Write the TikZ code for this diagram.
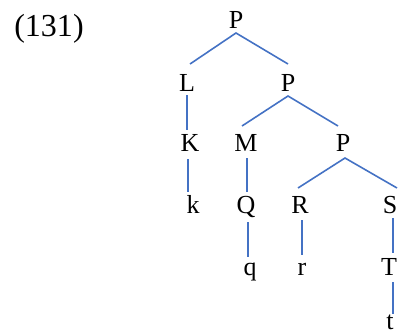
\documentclass[tikz,border=0pt]{standalone}
\usepackage{fontspec}
\setmainfont{Liberation Serif}
\definecolor{branch}{HTML}{4472C4}
\begin{document}
\begin{tikzpicture}[x=1pt,y=-1pt,
  lab/.style={anchor=base,inner sep=0pt,font=\fontsize{26}{30}\selectfont},
  numlab/.style={anchor=base,inner sep=0pt,font=\fontsize{32}{38}\selectfont},
  br/.style={draw=branch,line width=1.6pt}]
\useasboundingbox (0,0) rectangle (398,335);
\node[numlab] (num) at (49,36) {(131)};
\node[lab] (p1) at (236,28) {P};
\node[lab] (l)  at (187,91) {L};
\node[lab] (p2) at (288,91) {P};
\node[lab] (k)  at (190,151) {K};
\node[lab] (m)  at (246,151) {M};
\node[lab] (p3) at (343,151) {P};
\node[lab] (kk) at (193,213) {k};
\node[lab] (q)  at (246,213) {Q};
\node[lab] (r)  at (300,213) {R};
\node[lab] (s)  at (390,213) {S};
\node[lab] (qq) at (250,275) {q};
\node[lab] (rr) at (302,275) {r};
\node[lab] (t)  at (389,275) {T};
\node[lab] (tt) at (390,329) {t};
\draw[br] ([shift={(3,-27)}]l.base) -- ([shift={(0,5)}]p1.base) -- ([shift={(0,-27)}]p2.base);
\draw[br] ([shift={(0,4)}]l.base) -- ([shift={(-3,-21)}]k.base);
\draw[br] ([shift={(-4,-25)}]m.base) -- ([shift={(0,5)}]p2.base) -- ([shift={(-5,-25)}]p3.base);
\draw[br] ([shift={(-2,8)}]k.base) -- ([shift={(-5,-21)}]kk.base);
\draw[br] ([shift={(1,7)}]m.base) -- ([shift={(1,-21)}]q.base);
\draw[br] ([shift={(-2,-25)}]r.base) -- ([shift={(2,7)}]p3.base) -- ([shift={(7,-25)}]s.base);
\draw[br] ([shift={(2,9)}]q.base) -- ([shift={(-2,-18)}]qq.base);
\draw[br] ([shift={(2,7)}]r.base) -- ([shift={(0,-20)}]rr.base);
\draw[br] ([shift={(3,5)}]s.base) -- ([shift={(4,-22)}]t.base);
\draw[br] ([shift={(4,7)}]t.base) -- ([shift={(3,-15)}]tt.base);
\end{tikzpicture}
\end{document}
